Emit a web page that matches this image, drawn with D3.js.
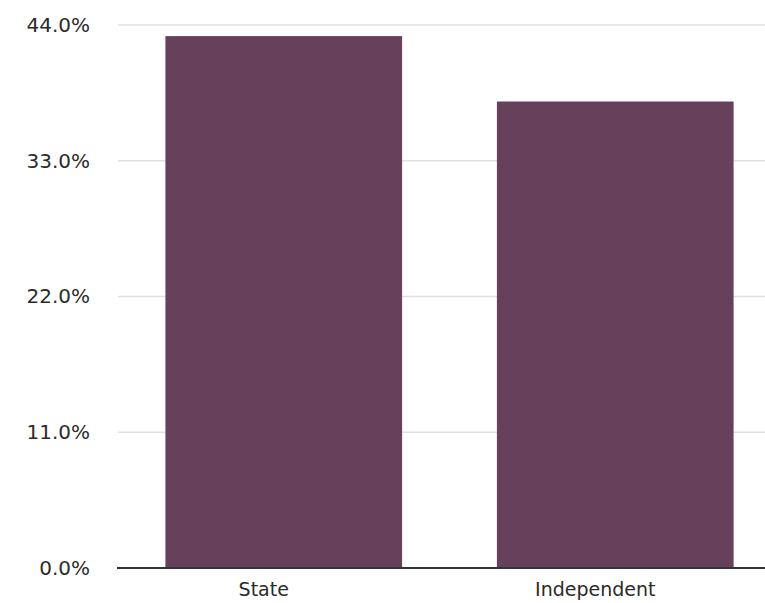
<!DOCTYPE html>
<html>
<head>
<meta charset="utf-8">
<script src="https://cdn.jsdelivr.net/npm/d3@7"></script>
<style>
  html, body { margin: 0; padding: 0; background: #fff; }
  svg { display: block; }
  text { font-family: "DejaVu Sans", sans-serif; fill: #2b2b2b; }
</style>
</head>
<body>
<script>
const categories = ["State", "Independent"];
const values = [43.1, 37.8];
const yTicks = [0, 11, 22, 33, 44];

const W = 765, H = 603;
const svg = d3.select("body").append("svg").attr("width", W).attr("height", H);

const y = d3.scaleLinear().domain([0, 44]).range([568, 25]);
const x = d3.scaleBand().domain(categories).range([118, 781])
  .paddingInner(0.286).paddingOuter(0.143);

// gridlines
svg.append("g").selectAll("line").data(yTicks.filter(d => d > 0)).join("line")
  .attr("x1", 118).attr("x2", W)
  .attr("y1", d => y(d)).attr("y2", d => y(d))
  .attr("stroke", "#e0e0e0").attr("stroke-width", 1.5);

// bars
svg.append("g").selectAll("rect").data(categories).join("rect")
  .attr("x", d => x(d))
  .attr("width", x.bandwidth())
  .attr("y", (d, i) => y(values[i]))
  .attr("height", (d, i) => y(0) - y(values[i]))
  .attr("fill", "#67415b");

// y axis
const yAxis = svg.append("g").attr("transform", "translate(118,0)")
  .call(d3.axisLeft(y).tickValues(yTicks).tickSize(0).tickPadding(28)
    .tickFormat(d => d3.format(".1f")(d) + "%"));
yAxis.select(".domain").remove();
yAxis.selectAll("text").style("font-size", "20px").attr("fill", "#2b2b2b");

// x axis
const xAxis = svg.append("g").attr("transform", "translate(0,568)")
  .call(d3.axisBottom(x).tickSize(0).tickPadding(15));
xAxis.select(".domain").remove();
xAxis.selectAll("text").style("font-size", "19px").attr("fill", "#2b2b2b").attr("dx", "-20");

// baseline
svg.append("line")
  .attr("x1", 117).attr("x2", W)
  .attr("y1", y(0)).attr("y2", y(0))
  .attr("stroke", "#333").attr("stroke-width", 2);
</script>
</body>
</html>
